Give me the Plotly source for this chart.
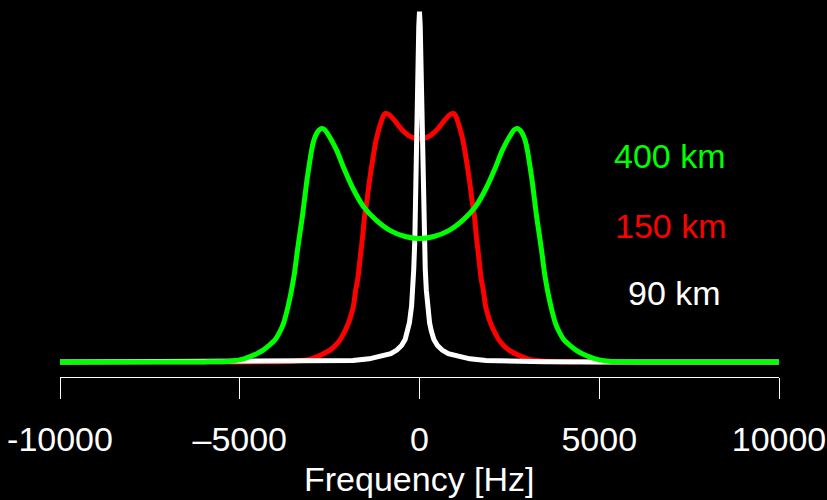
import plotly.graph_objects as go

# ---- data (normalised spectra) ----
green_f = [-10000, -8000, -7000, -6000, -5500, -5200, -5000, -4750, -4500, -4350,
           -4200, -4020, -3900, -3780, -3660, -3560, -3480, -3400, -3320, -3250,
           -3140, -3070, -3000, -2940, -2880, -2800, -2720, -2640, -2500, -2300,
           -2100, -1850, -1550, -1200, -800, -400, 0,
           400, 800, 1200, 1550, 1850, 2100, 2300, 2500, 2640, 2720, 2800, 2880,
           2940, 3000, 3070, 3140, 3250, 3320, 3400, 3480, 3560, 3660, 3780, 3900,
           4020, 4200, 4350, 4500, 4750, 5000, 5200, 5500, 6000, 7000, 8000, 10000]
green_y = [0, 0, 0, 0.0003, 0.0008, 0.003, 0.006, 0.014, 0.025, 0.034,
           0.046, 0.063, 0.083, 0.111, 0.157, 0.205, 0.252, 0.315, 0.372, 0.421,
           0.512, 0.56, 0.605, 0.632, 0.648, 0.661, 0.666, 0.663, 0.642, 0.603,
           0.552, 0.495, 0.442, 0.404, 0.374, 0.358, 0.352,
           0.358, 0.374, 0.404, 0.442, 0.495, 0.552, 0.603, 0.642, 0.663, 0.666, 0.661, 0.648,
           0.632, 0.605, 0.56, 0.512, 0.421, 0.372, 0.315, 0.252, 0.205, 0.157, 0.111, 0.083,
           0.063, 0.046, 0.034, 0.025, 0.014, 0.006, 0.003, 0.0008, 0.0003, 0, 0, 0]

red_f = [-10000, -6000, -5000, -4000, -3500, -3200, -3000, -2860, -2700, -2490,
         -2350, -2210, -2100, -1980, -1900, -1840, -1775, -1720, -1650, -1580,
         -1530, -1460, -1400, -1335, -1270, -1210, -1100, -1000, -950, -850,
         -700, -500, -300, -150, 0,
         150, 300, 500, 700, 850, 950, 1000, 1100, 1210, 1270, 1335, 1400,
         1460, 1530, 1580, 1650, 1720, 1775, 1840, 1900, 1980, 2100, 2210, 2350,
         2490, 2700, 2860, 3000, 3200, 3500, 4000, 5000, 6000, 10000]
red_y = [0, 0, 0.0002, 0.0008, 0.002, 0.005, 0.009, 0.015, 0.022, 0.034,
         0.046, 0.063, 0.083, 0.11, 0.135, 0.158, 0.205, 0.235, 0.297, 0.36,
         0.413, 0.462, 0.51, 0.556, 0.597, 0.632, 0.675, 0.703, 0.709, 0.706,
         0.69, 0.664, 0.646, 0.639, 0.637,
         0.639, 0.646, 0.664, 0.69, 0.706, 0.709, 0.703, 0.675, 0.632, 0.597, 0.556, 0.51,
         0.462, 0.413, 0.36, 0.297, 0.235, 0.205, 0.158, 0.135, 0.11, 0.083, 0.063, 0.046,
         0.034, 0.022, 0.015, 0.009, 0.005, 0.002, 0.0008, 0.0002, 0, 0]

white_f = [-10000, -5000, -3500, -2500, -1850, -1400, -1100, -800, -630, -500,
           -400, -330, -280, -220, -190, -160, -130, -100, -80, -60, -40, -20, 0,
           20, 40, 60, 80, 100, 130, 160, 190, 220, 280, 330, 400,
           500, 630, 800, 1100, 1400, 1850, 2500, 3500, 5000, 10000]
white_y = [0, 0.0003, 0.0007, 0.0015, 0.004, 0.009, 0.015, 0.024, 0.034, 0.047,
           0.064, 0.088, 0.112, 0.16, 0.205, 0.265, 0.35, 0.475, 0.585, 0.715, 0.85, 0.958, 1.0,
           0.958, 0.85, 0.715, 0.585, 0.475, 0.35, 0.265, 0.205, 0.16, 0.112, 0.088, 0.064,
           0.047, 0.034, 0.024, 0.015, 0.009, 0.004, 0.0015, 0.0007, 0.0003, 0]

tick_vals = [-10000, -5000, 0, 5000, 10000]
tick_text = ["-10000", "\u20135000", "0", "5000", "10000"]

labels = ["400 km", "150 km", "90 km"]
label_colors = ["#00ff00", "#ff0000", "#ffffff"]
label_x = [6968, 6982, 7093]
label_y = [0.588, 0.388, 0.196]

FONT = "Liberation Sans, Arial, Helvetica, sans-serif"
FS = 34

fig = go.Figure()
fig.add_trace(go.Scatter(x=red_f, y=red_y, mode="lines",
                         line=dict(color="#ff0000", width=5, shape="spline", smoothing=0.8),
                         hoverinfo="skip"))
fig.add_trace(go.Scatter(x=white_f, y=white_y, mode="lines",
                         line=dict(color="#ffffff", width=5),
                         hoverinfo="skip"))
fig.add_trace(go.Scatter(x=green_f, y=green_y, mode="lines",
                         line=dict(color="#00ff00", width=5, shape="spline", smoothing=0.8),
                         hoverinfo="skip"))

for t, c, x, y in zip(labels, label_colors, label_x, label_y):
    fig.add_annotation(x=x, y=y, xref="x", yref="y", text=t, showarrow=False,
                       font=dict(family=FONT, size=FS, color=c),
                       xanchor="center", yanchor="middle")

fig.add_annotation(x=0.5, y=-0.27, xref="paper", yref="paper", text="Frequency [Hz]",
                   showarrow=False, font=dict(family=FONT, size=FS, color="#ffffff"),
                   xanchor="center", yanchor="middle")

fig.update_layout(
    width=827, height=500,
    margin=dict(l=60, r=48, t=0, b=123),
    paper_bgcolor="#000000", plot_bgcolor="#000000",
    showlegend=False,
    xaxis=dict(range=[-10000, 10000], tickvals=tick_vals, ticktext=tick_text,
               showgrid=False, zeroline=False, showline=True, linecolor="#ffffff",
               linewidth=1, ticks="outside", ticklen=21, tickwidth=1, tickcolor="#ffffff",
               ticklabelstandoff=11,
               tickfont=dict(family=FONT, size=FS, color="#ffffff"), fixedrange=True),
    yaxis=dict(range=[-0.0428, 1.0328], visible=False, fixedrange=True),
)

fig.write_html("out.html")
